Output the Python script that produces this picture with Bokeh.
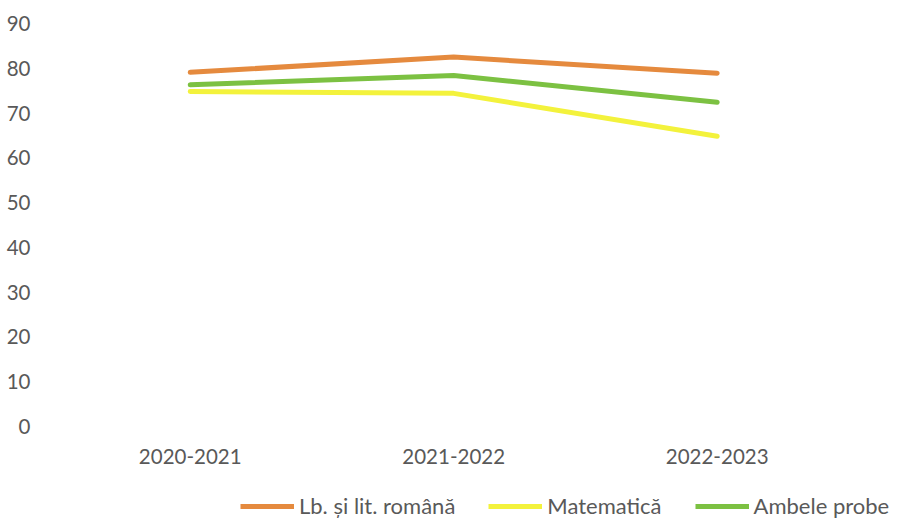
from bokeh.plotting import figure
from bokeh.layouts import column
from bokeh.models import Range1d, Legend, LegendItem, FixedTicker
from bokeh.embed import file_html
from bokeh.resources import INLINE

years = ["2020-2021", "2021-2022", "2022-2023"]
romana = [79.1, 82.5, 78.9]
matematica = [74.8, 74.4, 64.8]
ambele = [76.3, 78.4, 72.4]
y_ticks = [0, 10, 20, 30, 40, 50, 60, 70, 80, 90]
series_names = ["Lb. și lit. română", "Matematică", "Ambele probe"]
series_colors = ["#E58A3E", "#F3F23C", "#7CC142"]

FONT = "Lato"
GRAY = "#595959"
FS = "20.5px"
LFS = "22px"

# category positions (centre of each category slot)
x_pos = [i + 0.5 for i in range(len(years))]

p = figure(width=894, height=475, x_range=Range1d(0, 3.173), y_range=Range1d(0, 90),
           output_backend="svg", toolbar_location=None,
           min_border_left=58, min_border_right=0, min_border_top=23, min_border_bottom=49)
p.outline_line_color = None
p.xgrid.grid_line_color = None
p.ygrid.grid_line_color = None

series = [romana, matematica, ambele]
for vals, col in zip(series, series_colors):
    p.line(x_pos, vals, line_color=col, line_width=5, line_cap="round")

for ax in (p.xaxis[0], p.yaxis[0]):
    ax.axis_line_color = None
    ax.major_tick_line_color = None
    ax.minor_tick_line_color = None
    ax.major_label_text_font = FONT
    ax.major_label_text_font_size = FS
    ax.major_label_text_color = GRAY
p.yaxis[0].ticker = FixedTicker(ticks=y_ticks)
p.yaxis[0].major_label_standoff = 22
p.xaxis[0].ticker = FixedTicker(ticks=x_pos)
p.xaxis[0].major_label_overrides = {x: y for x, y in zip(x_pos, years)}
p.xaxis[0].major_label_standoff = 16

# legend strip (same series drawn off-screen so only the legend shows)
lg = figure(width=894, height=44, x_range=Range1d(0, 3.173), y_range=Range1d(0, 44),
            x_axis_type=None, y_axis_type=None,
            output_backend="svg", toolbar_location=None,
            min_border_left=58, min_border_right=0, min_border_top=0, min_border_bottom=0)
lg.outline_line_color = None
lg.grid.visible = False
items = []
for name, vals, col in zip(series_names, series, series_colors):
    r = lg.line(x_pos, vals, line_color=col, line_width=5)
    items.append(LegendItem(label=name, renderers=[r]))
legend = Legend(items=items, orientation="horizontal", location=(182, 0), padding=0, margin=0,
                glyph_width=54, glyph_height=22, label_height=22, label_standoff=5, spacing=33,
                label_text_font=FONT, label_text_font_size=LFS, label_text_color=GRAY,
                border_line_color=None, background_fill_alpha=0)
lg.add_layout(legend, "center")

layout = column(p, lg, spacing=0)
open("out.html", "w").write(file_html(layout, INLINE))
